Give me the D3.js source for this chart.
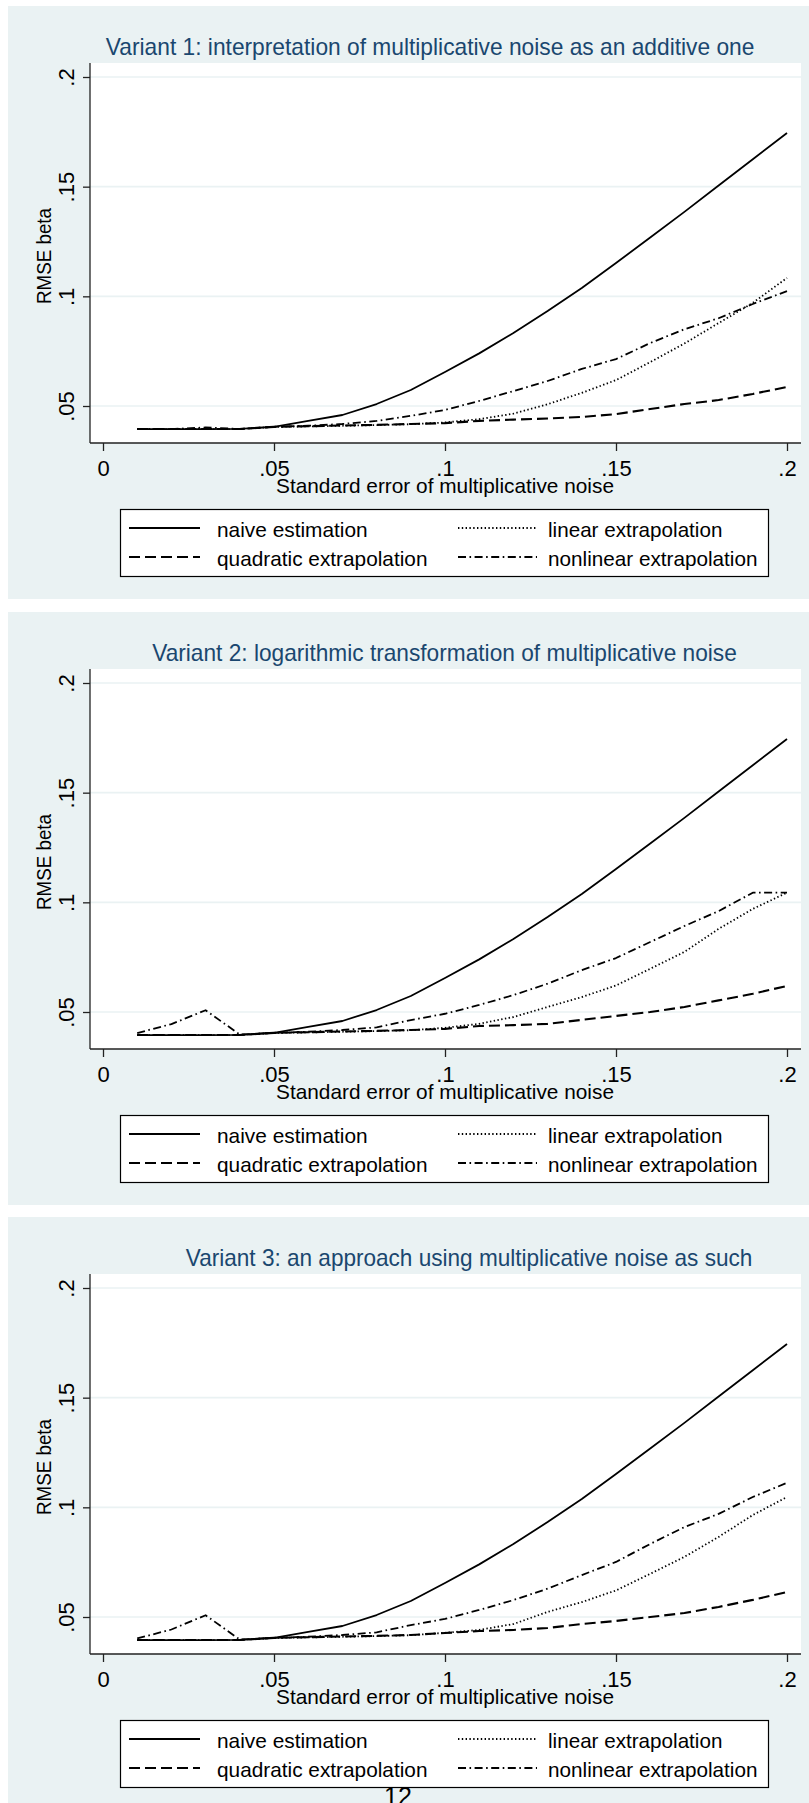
<!DOCTYPE html>
<html>
<head>
<meta charset="utf-8">
<script src="https://cdn.jsdelivr.net/npm/d3@7"></script>
<style>
  html, body { margin: 0; padding: 0; background: #fff; }
  svg { display: block; }
  text { font-family: "Liberation Sans", Arial, sans-serif; }
</style>
</head>
<body>
<div id="chart"></div>
<script>
// noise levels (x)
const noiseSE = [0.01, 0.02, 0.03, 0.04, 0.05, 0.06, 0.07, 0.08, 0.09, 0.10,
                 0.11, 0.12, 0.13, 0.14, 0.15, 0.16, 0.17, 0.18, 0.19, 0.20]

// naive estimation is the same in all variants
const naive = [0.0395, 0.0395, 0.0395, 0.0396, 0.0405, 0.0432, 0.0459, 0.0509, 0.0573, 0.0655,
               0.0740, 0.0833, 0.0933, 0.1038, 0.1152, 0.1268, 0.1385, 0.1505, 0.1625, 0.1745]

// Variant 1
const v1Linear = [0.0395, 0.0395, 0.0395, 0.0395, 0.0405, 0.0407, 0.0410, 0.0413, 0.0417, 0.0425,
                  0.0440, 0.0465, 0.0508, 0.0560, 0.0618, 0.0700, 0.0785, 0.0878, 0.0970, 0.1084]
const v1Quadratic = [0.0395, 0.0395, 0.0395, 0.0395, 0.0405, 0.0408, 0.0411, 0.0414, 0.0418, 0.0422,
                     0.0432, 0.0438, 0.0443, 0.0450, 0.0463, 0.0486, 0.0509, 0.0527, 0.0555, 0.0587]
const v1Nonlinear = [0.0395, 0.0395, 0.0402, 0.0395, 0.0405, 0.0410, 0.0418, 0.0432, 0.0455, 0.0482,
                     0.0523, 0.0568, 0.0614, 0.0669, 0.0714, 0.0787, 0.0850, 0.0900, 0.0965, 0.1024]

// Variant 2
const v2Linear = [0.0395, 0.0395, 0.0395, 0.0395, 0.0405, 0.0407, 0.0410, 0.0413, 0.0417, 0.0428,
                  0.0446, 0.0477, 0.0523, 0.0568, 0.0621, 0.0697, 0.0774, 0.0879, 0.0970, 0.1044]
const v2Quadratic = [0.0395, 0.0395, 0.0395, 0.0395, 0.0405, 0.0408, 0.0411, 0.0414, 0.0418, 0.0423,
                     0.0436, 0.0440, 0.0446, 0.0464, 0.0482, 0.0500, 0.0523, 0.0553, 0.0583, 0.0619]
const v2Nonlinear = [0.0404, 0.0445, 0.0508, 0.0397, 0.0405, 0.0410, 0.0418, 0.0430, 0.0463, 0.0492,
                     0.0532, 0.0577, 0.0629, 0.0691, 0.0746, 0.0819, 0.0892, 0.0960, 0.1044, 0.1044]

// Variant 3
const v3Linear = [0.0395, 0.0395, 0.0395, 0.0395, 0.0405, 0.0407, 0.0410, 0.0413, 0.0417, 0.0428,
                  0.0441, 0.0468, 0.0523, 0.0568, 0.0621, 0.0697, 0.0774, 0.0865, 0.0965, 0.1047]
const v3Quadratic = [0.0395, 0.0395, 0.0395, 0.0395, 0.0405, 0.0408, 0.0411, 0.0414, 0.0418, 0.0427,
                     0.0436, 0.0441, 0.0450, 0.0468, 0.0482, 0.0500, 0.0518, 0.0546, 0.0578, 0.0614]
const v3Nonlinear = [0.0402, 0.0443, 0.0508, 0.0397, 0.0405, 0.0410, 0.0418, 0.0430, 0.0463, 0.0491,
                     0.0532, 0.0577, 0.0629, 0.0691, 0.0751, 0.0833, 0.0910, 0.0970, 0.1047, 0.1112]

const titles = [
  'Variant 1: interpretation of multiplicative noise as an additive one',
  'Variant 2: logarithmic transformation of multiplicative noise',
  'Variant 3: an approach using multiplicative noise as such'
]
const seriesNames = ['naive estimation', 'linear extrapolation', 'quadratic extrapolation', 'nonlinear extrapolation']
const xTicks = [0, 0.05, 0.1, 0.15, 0.2]
const xTickLabels = ['0', '.05', '.1', '.15', '.2']
const yTicks = [0.05, 0.1, 0.15, 0.2]
const yTickLabels = ['.05', '.1', '.15', '.2']
const xTitle = 'Standard error of multiplicative noise'
const yTitle = 'RMSE beta'
const pageNumber = '12'

// ---- layout / style ----
const W = 809, H = 1803
const panelTops = [6, 612, 1217]
const panelH = 593
const bg = '#eaf2f3'
const titleColor = '#1a476f'
const titleBox = [[105.8, 648.6], [152.2, 584.6], [185.8, 566.5]]  // start x, width
const dash = {
  'naive estimation': null,
  'linear extrapolation': '1.4,2.4',
  'quadratic extrapolation': '11,5',
  'nonlinear extrapolation': '8,3.5,1.6,3.5'
}
const legendPos = {
  'naive estimation': [129, 200, 217, 522, 531, 150.7],
  'linear extrapolation': [458, 537, 548, 522, 531, 174.4],
  'quadratic extrapolation': [129, 200, 217, 551, 560, 210.5],
  'nonlinear extrapolation': [458, 537, 548, 551, 560, 209.5]
}

const panels = [
  { title: titles[0], series: [naive, v1Linear, v1Quadratic, v1Nonlinear] },
  { title: titles[1], series: [naive, v2Linear, v2Quadratic, v2Nonlinear] },
  { title: titles[2], series: [naive, v3Linear, v3Quadratic, v3Nonlinear] }
]

const svg = d3.select('#chart').append('svg')
  .attr('width', W)
  .attr('height', H)

const x = d3.scaleLinear().domain([0, 0.2]).range([103, 787])
const y = d3.scaleLinear().domain([0.05, 0.2]).range([400, 71])
const plot = { left: 90, right: 801, top: 57, bottom: 437 }

const line = d3.line()
  .x((d, i) => x(noiseSE[i]))
  .y(d => y(d))

panels.forEach((p, pi) => {
  const g = svg.append('g').attr('transform', `translate(0, ${panelTops[pi]})`)

  g.append('rect')
    .attr('x', 8).attr('y', 0)
    .attr('width', W - 8)
    .attr('height', pi === 2 ? H - panelTops[pi] : panelH)
    .attr('fill', bg)

  g.append('rect')
    .attr('x', plot.left).attr('y', plot.top)
    .attr('width', plot.right - plot.left)
    .attr('height', plot.bottom - plot.top)
    .attr('fill', '#fff')

  // grid
  g.selectAll('line.grid').data(yTicks).enter().append('line')
    .attr('class', 'grid')
    .attr('x1', plot.left).attr('x2', plot.right)
    .attr('y1', d => y(d)).attr('y2', d => y(d))
    .attr('stroke', bg).attr('stroke-width', 1.6)

  // title
  g.append('text')
    .attr('x', titleBox[pi][0]).attr('y', 49)
    .attr('textLength', titleBox[pi][1])
    .attr('lengthAdjust', 'spacingAndGlyphs')
    .attr('font-size', 24)
    .attr('fill', titleColor)
    .text(p.title)

  // series
  p.series.forEach((vals, si) => {
    const name = seriesNames[si]
    g.append('path')
      .datum(vals)
      .attr('d', line)
      .attr('fill', 'none')
      .attr('stroke', '#000')
      .attr('stroke-width', name === 'quadratic extrapolation' ? 2.1 : 1.8)
      .attr('stroke-dasharray', dash[name])
      .attr('stroke-linejoin', 'round')
  })

  // x axis
  const xAxis = d3.axisBottom(x)
    .tickValues(xTicks)
    .tickFormat((d, i) => xTickLabels[i])
    .tickSize(8)
    .tickSizeOuter(0)
  const gx = g.append('g')
    .attr('transform', `translate(0, ${plot.bottom})`)
    .call(xAxis)
  gx.select('.domain').remove()
  gx.append('line')
    .attr('x1', plot.left).attr('x2', plot.right)
    .attr('y1', 0).attr('y2', 0)
    .attr('stroke', '#222').attr('stroke-width', 1.3)
  gx.selectAll('.tick line').attr('stroke', '#222').attr('stroke-width', 1.3)
  gx.selectAll('.tick text')
    .attr('y', 33).attr('dy', null)
    .attr('font-size', 22)
    .attr('font-family', '"Liberation Sans", Arial, sans-serif')
    .attr('fill', '#000')

  g.append('text')
    .attr('x', 276).attr('y', 487)
    .attr('textLength', 338)
    .attr('lengthAdjust', 'spacingAndGlyphs')
    .attr('font-size', 21)
    .text(xTitle)

  // y axis
  const yAxis = d3.axisLeft(y)
    .tickValues(yTicks)
    .tickFormat((d, i) => yTickLabels[i])
    .tickSize(7)
    .tickSizeOuter(0)
  const gy = g.append('g')
    .attr('transform', `translate(${plot.left}, 0)`)
    .call(yAxis)
  gy.select('.domain').remove()
  gy.append('line')
    .attr('x1', 0).attr('x2', 0)
    .attr('y1', plot.top).attr('y2', plot.bottom)
    .attr('stroke', '#222').attr('stroke-width', 1.3)
  gy.selectAll('.tick line').attr('stroke', '#222').attr('stroke-width', 1.3)
  gy.selectAll('.tick text')
    .attr('x', null).attr('dy', null)
    .attr('transform', 'translate(-16, 0) rotate(-90)')
    .attr('text-anchor', 'middle')
    .attr('font-size', 22)
    .attr('font-family', '"Liberation Sans", Arial, sans-serif')
    .attr('fill', '#000')

  g.append('text')
    .attr('transform', 'translate(51, 250) rotate(-90)')
    .attr('text-anchor', 'middle')
    .attr('font-size', 21)
    .attr('textLength', 96)
    .attr('lengthAdjust', 'spacingAndGlyphs')
    .text(yTitle)

  // legend
  g.append('rect')
    .attr('x', 120.5).attr('y', 503.5)
    .attr('width', 648).attr('height', 67)
    .attr('fill', '#fff').attr('stroke', '#000').attr('stroke-width', 1.2)

  seriesNames.forEach(name => {
    const [lx1, lx2, tx, ly, ty, tw] = legendPos[name]
    g.append('line')
      .attr('x1', lx1).attr('x2', lx2)
      .attr('y1', ly).attr('y2', ly)
      .attr('stroke', '#000')
      .attr('stroke-width', name === 'quadratic extrapolation' ? 2.1 : 1.8)
      .attr('stroke-dasharray', dash[name])
    g.append('text')
      .attr('x', tx).attr('y', ty)
      .attr('font-size', 21)
      .attr('textLength', tw)
      .attr('lengthAdjust', 'spacingAndGlyphs')
      .text(name)
  })
})

svg.append('text')
  .attr('x', 398).attr('y', 1805)
  .attr('text-anchor', 'middle')
  .attr('font-family', '"Liberation Serif", "Times New Roman", serif')
  .attr('font-size', 25)
  .text(pageNumber)
</script>
</body>
</html>
